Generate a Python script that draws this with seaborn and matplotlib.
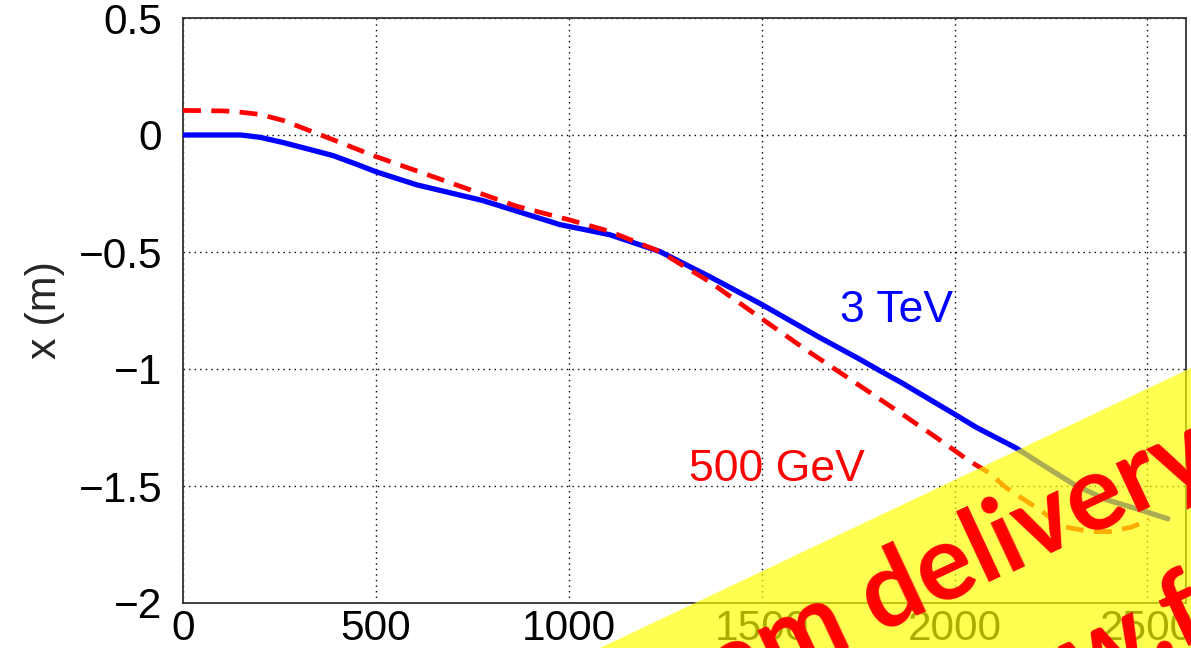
import numpy as np
import pandas as pd
import matplotlib
matplotlib.use("Agg")
import matplotlib.pyplot as plt
import seaborn as sns
from matplotlib.patches import Polygon
from matplotlib.ticker import MultipleLocator

# ---- data ----
blue_s = [0, 150, 200, 259, 320, 389, 450, 500, 606, 777, 977, 1106, 1236,
          1365, 1500, 1650, 1754, 1806, 1861, 2000, 2057, 2160, 2220, 2311,
          2393, 2479, 2553]
blue_x = [0.0, 0.0, -0.010, -0.032, -0.058, -0.088, -0.125, -0.157, -0.213,
          -0.280, -0.383, -0.426, -0.498, -0.605, -0.724, -0.865, -0.958,
          -1.007, -1.057, -1.193, -1.250, -1.338, -1.401, -1.495, -1.558,
          -1.601, -1.640]

red_s = [0, 100, 130, 200, 260, 373, 500, 631, 864, 1000, 1106, 1236, 1365,
         1500, 1624, 1754, 1858, 1953, 2039, 2091, 2134, 2220, 2281, 2350,
         2402, 2458, 2505]
red_x = [0.105, 0.103, 0.101, 0.088, 0.062, -0.010, -0.092, -0.168, -0.304,
         -0.362, -0.412, -0.498, -0.627, -0.785, -0.928, -1.071, -1.186,
         -1.293, -1.394, -1.445, -1.508, -1.601, -1.673, -1.695, -1.695,
         -1.676, -1.644]

series_labels = ["3 TeV", "500 GeV"]
x_ticks = [0, 500, 1000, 1500, 2000, 2500]
y_ticks = [0.5, 0, -0.5, -1, -1.5, -2]
y_tick_labels = ["0.5", "0", "\u22120.5", "\u22121", "\u22121.5", "\u22122"]
y_label = "x (m)"
banner_lines = ["Beam delivery", "www.f"]

df_blue = pd.DataFrame({"s": blue_s, "x": blue_x})
df_red = pd.DataFrame({"s": red_s, "x": red_x})

sns.set_style("white")
plt.rcParams["font.family"] = ["Liberation Sans", "DejaVu Sans"]

W, H = 1191, 648
fig = plt.figure(figsize=(W / 100, H / 100), dpi=100)
ax = fig.add_axes([183 / W, 1 - 603 / H, (1186 - 183) / W, (603 - 18) / H])

sns.lineplot(data=df_blue, x="s", y="x", ax=ax, color="#0000ff", lw=3.8,
             estimator=None, sort=False, zorder=3)
sns.lineplot(data=df_red, x="s", y="x", ax=ax, color="#ff0000", lw=3.4,
             estimator=None, sort=False, zorder=3, linestyle=(0, (3.8, 2.2)))

ax.set_xlim(0, 2600)
ax.set_ylim(-2, 0.5)
ax.set_xticks(x_ticks)
ax.set_yticks(y_ticks)
ax.set_yticklabels(y_tick_labels)
ax.xaxis.set_minor_locator(MultipleLocator(100))
ax.tick_params(axis="both", which="major", direction="in", length=17, width=1.2,
               labelsize=30.5, color="black", labelcolor="black")
ax.tick_params(axis="x", which="major", pad=4)
ax.tick_params(axis="y", which="major", pad=15)
ax.tick_params(axis="x", which="minor", direction="in", length=9, width=1.2,
               color="black")
ax.tick_params(axis="y", which="minor", length=0)
ax.set_xlabel("")
ax.set_ylabel(y_label, fontsize=31, labelpad=10)

ax.grid(True, which="major", color="black", linestyle=(0, (1, 3)), lw=1.0)
for sp in ax.spines.values():
    sp.set_visible(True)
    sp.set_color("#333333")
    sp.set_linewidth(1.3)

ax.text(1850, -0.75, series_labels[0], color="#0000ff", fontsize=32,
        ha="center", va="center")
ax.text(1540, -1.43, series_labels[1], color="#ff0000", fontsize=32,
        ha="center", va="center")

# yellow translucent banner
tri = Polygon([(600 / W, 0), (1, 1 - 368 / H), (1, 0)], closed=True,
              transform=fig.transFigure, facecolor="#ffff00", edgecolor="none",
              alpha=0.68, zorder=10)
fig.patches.append(tri)

ang = 25
fig.text(612 / W, (H - 758) / H, banner_lines[0], color="#ff0000",
         fontsize=76, fontweight="bold", family=["Lato", "DejaVu Sans"],
         rotation=ang, rotation_mode="anchor", ha="left", va="baseline",
         zorder=11)
fig.text(927 / W, (H - 767) / H, banner_lines[1], color="#ff0000",
         fontsize=76, fontweight="bold", family=["Lato", "DejaVu Sans"],
         rotation=ang, rotation_mode="anchor", ha="left", va="baseline",
         zorder=11)

fig.savefig("out.png", dpi=100)
